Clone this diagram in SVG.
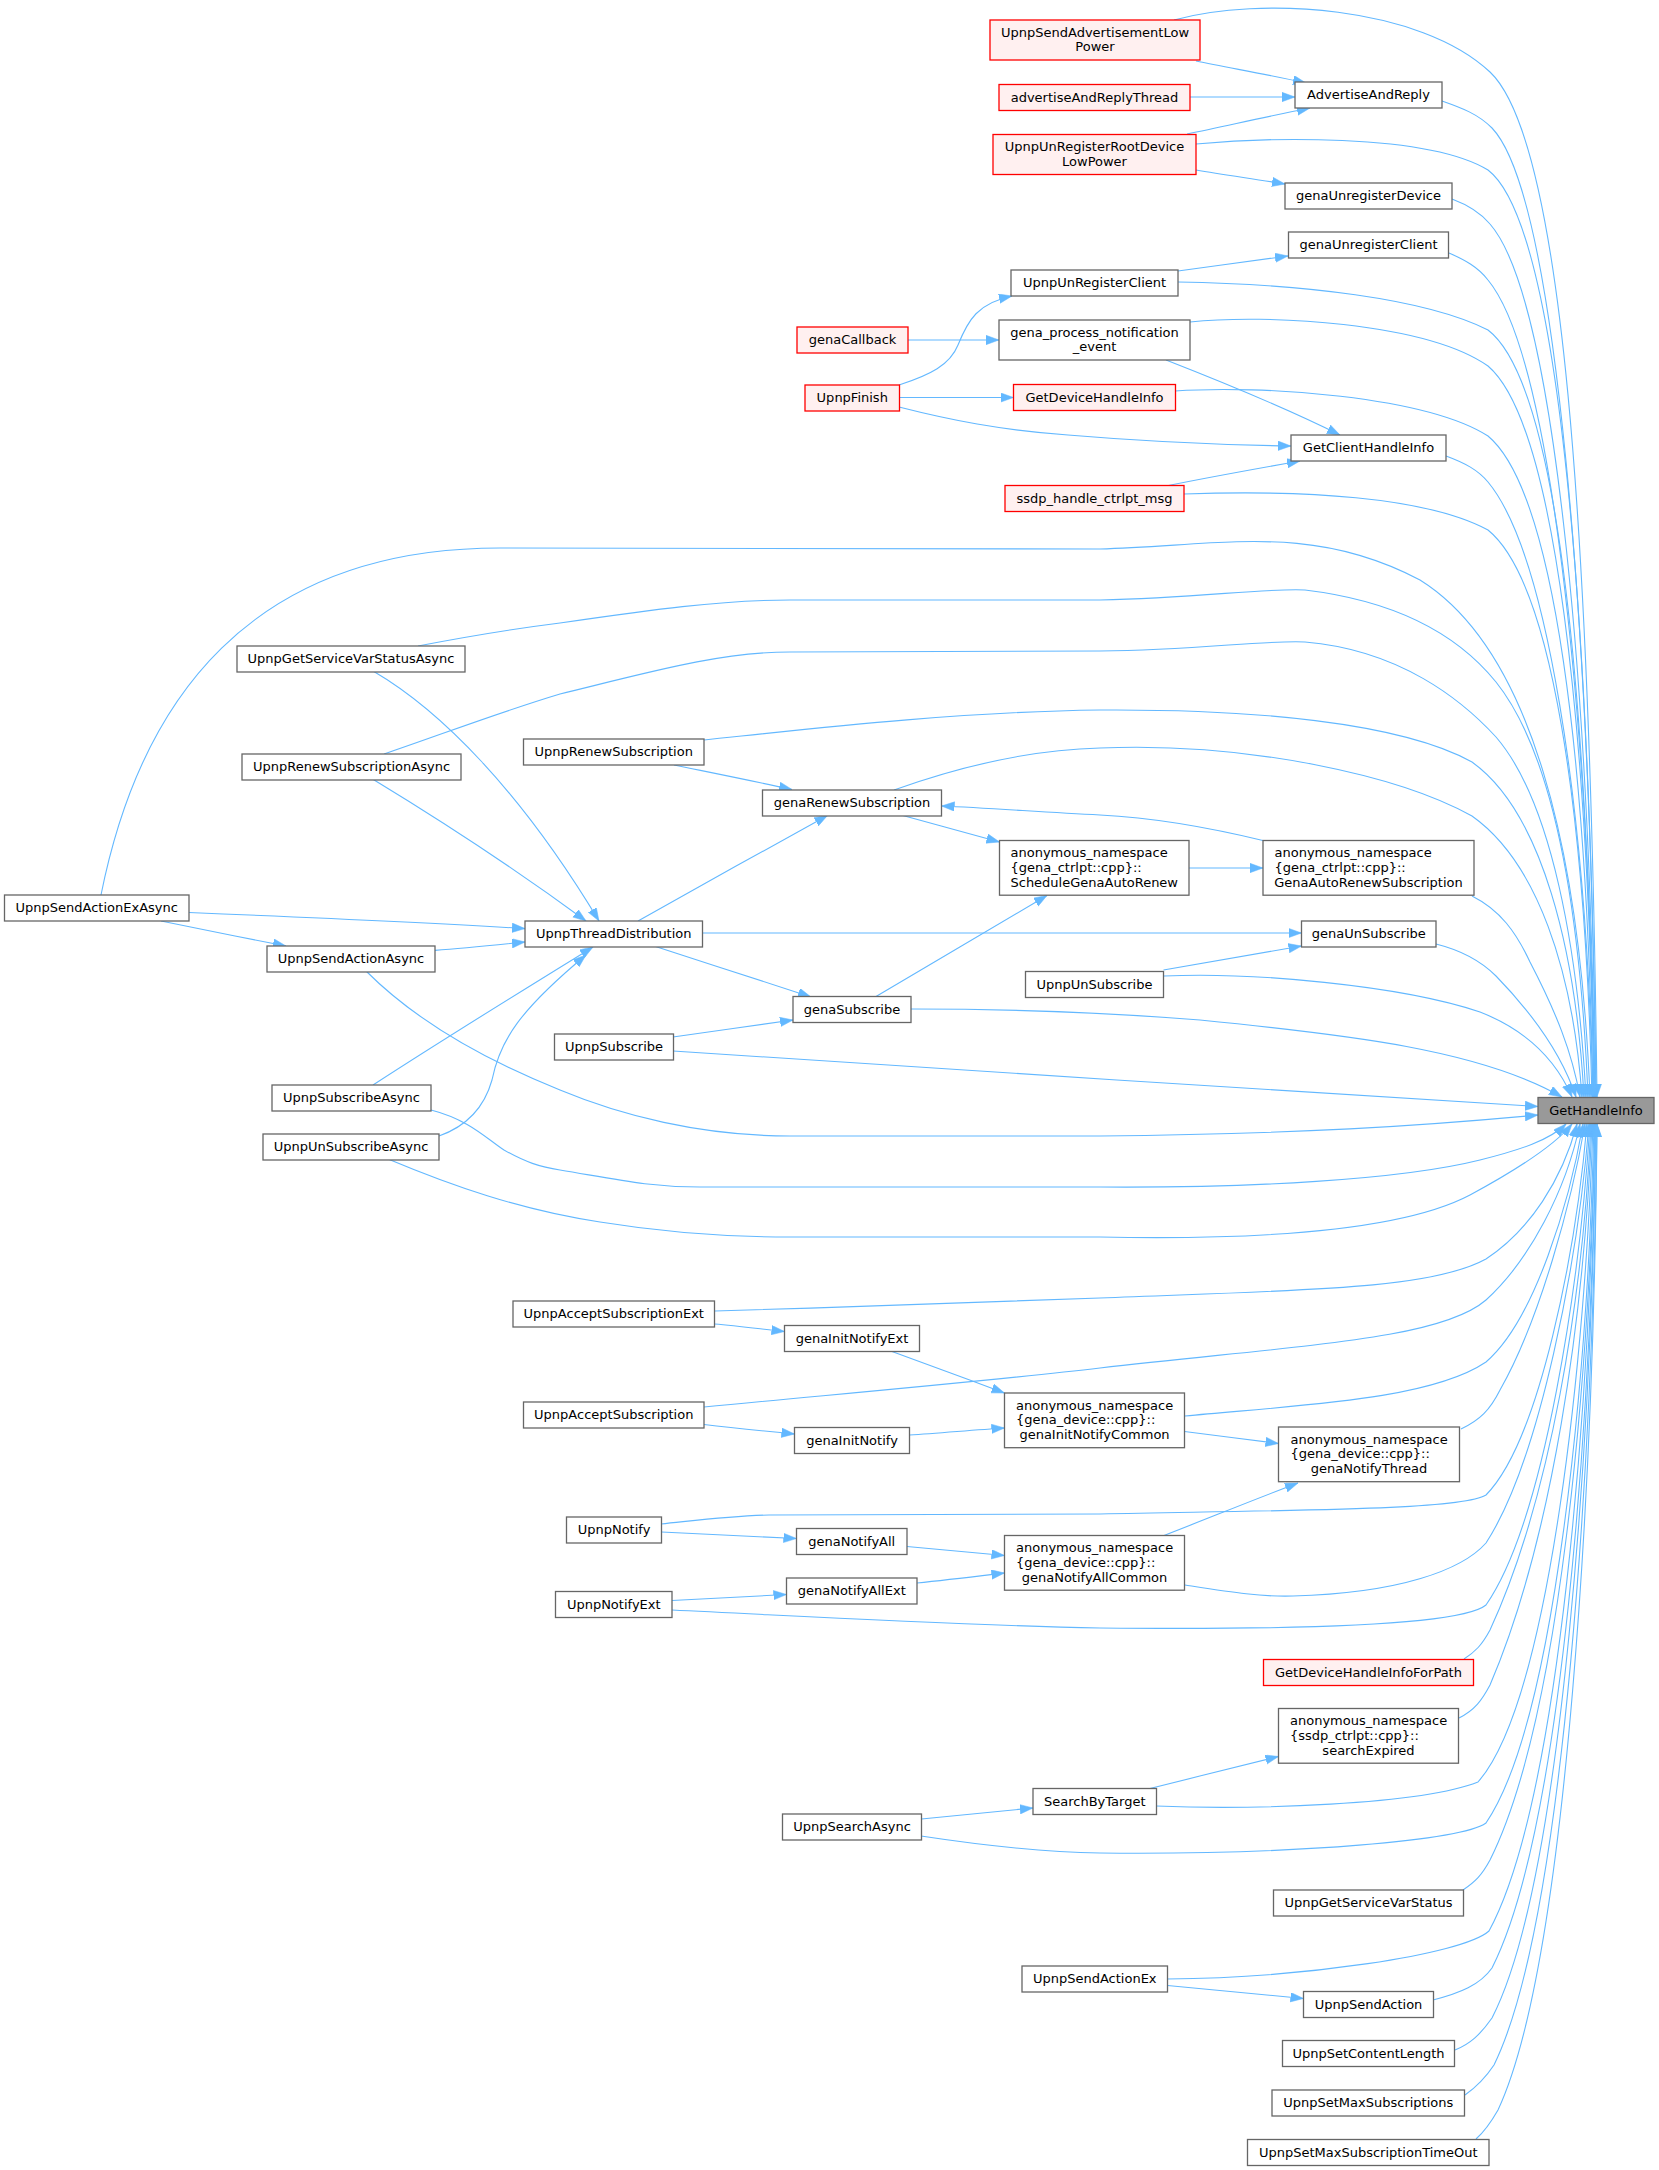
<svg xmlns="http://www.w3.org/2000/svg" width="1659" height="2170" viewBox="0 0 1659 2170">
<style>
.nd rect{fill:#ffffff;stroke:#666666;stroke-width:1.3}
.rd rect{fill:#fff0f0;stroke:#ff0000;stroke-width:1.3}
.gd rect{fill:#999999;stroke:#666666;stroke-width:1.3}
text{font-family:"DejaVu Sans","Liberation Sans",sans-serif;font-size:13px;fill:#000000}
.m{text-anchor:middle}
.s{text-anchor:start}
#edges path{fill:none;stroke:#63b8ff;stroke-width:1.1;marker-end:url(#ah)}
</style>
<defs>
<marker id="ah" markerUnits="userSpaceOnUse" markerWidth="14" markerHeight="10" refX="13" refY="4.7" orient="auto">
<path d="M0,0 L13,4.7 L0,9.4 z" fill="#63b8ff" stroke="#63b8ff" stroke-width="0.5"/>
</marker>
</defs>
<rect x="0" y="0" width="1659" height="2170" fill="#ffffff"/>
<g id="edges">
<!-- into GetHandleInfo from above -->
<path d="M1174,20 C1260,-4 1420,6 1490,72 C1562,140 1590,520 1597,1097"/>
<path d="M1442,101 C1462,108 1478,114 1492,128 C1556,195 1590,620 1596,1097"/>
<path d="M1196,144 C1260,138 1425,132 1488,170 C1560,225 1590,620 1596,1097"/>
<path d="M1452,199 C1468,205 1480,212 1490,224 C1552,295 1589,660 1595,1097"/>
<path d="M1449,253 C1465,260 1478,267 1488,280 C1550,355 1588,700 1595,1097"/>
<path d="M1178,282 C1300,284 1425,298 1488,330 C1560,385 1588,710 1594,1097"/>
<path d="M1190,322 C1265,314 1425,322 1488,366 C1556,424 1588,730 1594,1097"/>
<path d="M1175,391 C1262,385 1425,396 1488,436 C1555,492 1587,760 1593,1097"/>
<path d="M1446,456 C1465,463 1478,470 1488,482 C1546,552 1586,800 1593,1097"/>
<path d="M1184,494 C1300,490 1425,496 1488,530 C1552,582 1585,810 1592,1097"/>
<path d="M101,895 C140,700 250,548 500,548 L1100,549 C1220,546 1310,522 1420,580 C1532,650 1580,850 1590,1097"/>
<path d="M418,646 C470,636 520,628 560,623 C650,610 720,600 790,600 L1100,600 C1200,598 1262,588 1305,590 C1405,602 1462,640 1496,682 C1552,752 1580,900 1588,1097"/>
<path d="M384,754 C440,735 500,712 560,694 C650,672 720,652 790,652 L1100,651 C1200,650 1262,640 1305,642 C1400,650 1462,700 1496,737 C1552,802 1578,950 1586,1097"/>
<path d="M704,740 C800,730 950,712 1100,710 C1250,709 1400,722 1472,762 C1542,812 1576,950 1584,1097"/>
<path d="M894,790 C950,770 1020,750 1100,748 C1250,742 1400,776 1472,816 C1537,862 1573,970 1582,1097"/>
<path d="M1472,896 C1500,910 1516,932 1530,962 C1556,1012 1572,1052 1580,1097"/>
<path d="M1436,944 C1460,950 1480,960 1496,976 C1531,1012 1561,1052 1576,1097"/>
<path d="M1164,976 C1250,972 1400,985 1480,1012 C1526,1030 1556,1060 1572,1097"/>
<path d="M911,1009 C1000,1009 1100,1012 1200,1020 C1350,1035 1480,1050 1562,1097"/>
<!-- into GetHandleInfo from left -->
<path d="M673,1051 C900,1065 1300,1093 1538,1106.5"/>
<path d="M366,971 C400,1005 460,1050 560,1090 C620,1115 700,1136 790,1136 L1100,1136 C1300,1134 1420,1126 1538,1115"/>
<!-- into GetHandleInfo from below -->
<path d="M431,1110 C470,1120 488,1140 504,1150 C525,1162 540,1167 560,1170 C620,1180 650,1187 700,1187 L1100,1187 C1250,1188 1400,1180 1480,1160 C1520,1150 1550,1140 1566,1124"/>
<path d="M388,1159 C450,1185 520,1210 600,1222 C680,1235 740,1237 790,1237 L1100,1237 C1250,1240 1400,1232 1470,1195 C1520,1168 1555,1145 1572,1124"/>
<path d="M715,1311 C850,1307 1000,1302 1100,1298 C1300,1290 1430,1290 1486,1259 C1530,1230 1562,1180 1577,1124"/>
<path d="M704,1407 C850,1393 1000,1380 1100,1368 C1300,1345 1440,1340 1486,1300 C1530,1260 1566,1190 1580,1124"/>
<path d="M1185,1416 C1300,1405 1430,1400 1486,1362 C1535,1320 1570,1200 1583,1124"/>
<path d="M1461,1429 C1480,1420 1490,1410 1500,1390 C1540,1320 1572,1200 1585,1124"/>
<path d="M661,1524 C700,1520 730,1516 769,1515 L1100,1514 C1300,1510 1462,1510 1486,1495 C1540,1440 1576,1250 1587,1124"/>
<path d="M1185,1585 C1230,1592 1260,1597 1293,1596 C1400,1593 1462,1570 1486,1543 C1540,1460 1578,1260 1589,1124"/>
<path d="M672,1610 C800,1616 950,1625 1100,1628 C1300,1630 1462,1625 1486,1605 C1545,1520 1580,1280 1590,1124"/>
<path d="M1464,1659 C1475,1652 1482,1645 1490,1630 C1550,1500 1583,1300 1591,1124"/>
<path d="M1459,1718 C1475,1710 1482,1700 1490,1685 C1552,1540 1584,1320 1592,1124"/>
<path d="M1156,1806 C1250,1810 1420,1805 1478,1782 C1550,1700 1586,1350 1593,1124"/>
<path d="M921,1836 C980,1845 1040,1852 1100,1853 C1300,1855 1462,1840 1486,1823 C1556,1720 1588,1370 1594,1124"/>
<path d="M1463,1890 C1475,1882 1482,1875 1490,1860 C1560,1720 1589,1380 1595,1124"/>
<path d="M1167,1979 C1300,1978 1462,1955 1489,1931 C1560,1800 1590,1400 1595,1124"/>
<path d="M1433,2000 C1460,1993 1480,1985 1492,1968 C1562,1830 1591,1420 1596,1124"/>
<path d="M1455,2050 C1470,2044 1480,2035 1492,2018 C1563,1880 1592,1430 1596,1124"/>
<path d="M1465,2095 C1475,2088 1484,2080 1494,2065 C1565,1920 1593,1450 1597,1124"/>
<path d="M1476,2139 C1484,2132 1490,2124 1498,2110 C1568,1960 1594,1470 1597,1124"/>
<!-- other connectors -->
<path d="M1196,61 C1230,68 1270,75 1306,83"/>
<path d="M1190,97 L1295,97"/>
<path d="M1187,134 C1230,125 1270,116 1310,108"/>
<path d="M1196,170 C1225,175 1255,179 1285,184"/>
<path d="M1178,271 C1215,266 1250,261 1288,256"/>
<path d="M908,340 L999,340"/>
<path d="M899,385 C930,375 950,365 958,345 C968,320 978,303 1012,296"/>
<path d="M899,397.5 L1013.5,397.5"/>
<path d="M899,407 C950,420 1000,430 1068,435 C1150,442 1230,445 1291,446"/>
<path d="M1166,360 C1230,385 1290,410 1340,435"/>
<path d="M1166,486 C1210,477 1255,469 1300,461"/>
<path d="M373,671 C440,710 520,790 599,921"/>
<path d="M372.5,779 C440,820 510,865 586,921"/>
<path d="M189,912.5 C300,917 420,922 525,928.6"/>
<path d="M161,921 C200,929 245,938 286,946"/>
<path d="M435,950.4 C465,948 495,945 525,942"/>
<path d="M373,1085 C450,1035 520,992 593,947"/>
<path d="M439,1136 C470,1125 485,1105 492,1080 C500,1040 520,1010 586,955"/>
<path d="M638,921 C700,886 765,850 827.5,815.5"/>
<path d="M654,946 C706,963 760,980 811,997"/>
<path d="M702.5,933 L1301.5,933"/>
<path d="M674,765 C713,773 753,781 792,789.5"/>
<path d="M901,815 C934,824 966,833 999.5,842"/>
<path d="M1189,868 L1263,868"/>
<path d="M1265,841 C1220,830 1160,818 1100,815 C1040,812 990,808 941.5,806"/>
<path d="M876,996.5 C933,963 990,929 1047,895.5"/>
<path d="M673,1037 C713,1031 753,1026 793,1020"/>
<path d="M1163.5,970 C1209,962 1255,954 1301.5,946"/>
<path d="M714.5,1324 C738,1326 761,1329 784.5,1331.5"/>
<path d="M892,1351.5 C929,1365 967,1379 1004.5,1393"/>
<path d="M704,1424.5 C734,1428 764,1431 794.5,1434"/>
<path d="M909.5,1435 C941,1433 973,1430 1004.5,1428"/>
<path d="M1184.5,1431.5 C1216,1435.5 1247,1439.5 1278.5,1443.5"/>
<path d="M1164,1535.5 C1209,1518 1253,1500 1298,1483"/>
<path d="M661.5,1532 C706,1534 751,1536.5 796.5,1538.5"/>
<path d="M907,1546.5 C940,1549.5 972,1552.5 1004.5,1555.5"/>
<path d="M672,1600.5 C710,1598.5 748,1596.5 786.5,1594.5"/>
<path d="M917,1583 C946,1580 975,1576.5 1004.5,1573"/>
<path d="M1150,1788.5 C1193,1778 1235,1767 1278.5,1756.5"/>
<path d="M921.5,1819 C959,1815 996,1811.5 1033,1808"/>
<path d="M1167.5,1985.5 C1213,1990 1258,1994 1303.5,1998.5"/>
</g>
<g id="node1" class="rd"><rect x="990" y="20" width="210" height="40"/><text class="m" x="1095" y="36.7">UpnpSendAdvertisementLow</text><text class="m" x="1095" y="51.3">Power</text></g>
<g id="node2" class="rd"><rect x="999" y="84.5" width="191" height="26"/><text class="m" x="1094.5" y="101.5">advertiseAndReplyThread</text></g>
<g id="node3" class="rd"><rect x="993" y="134.5" width="203" height="40"/><text class="m" x="1094.5" y="151.2">UpnpUnRegisterRootDevice</text><text class="m" x="1094.5" y="165.8">LowPower</text></g>
<g id="node4" class="nd"><rect x="1295" y="82" width="147" height="26"/><text class="m" x="1368.5" y="99">AdvertiseAndReply</text></g>
<g id="node5" class="nd"><rect x="1285" y="183" width="167" height="26"/><text class="m" x="1368.5" y="200">genaUnregisterDevice</text></g>
<g id="node6" class="nd"><rect x="1288.5" y="232" width="160" height="26"/><text class="m" x="1368.5" y="249">genaUnregisterClient</text></g>
<g id="node7" class="nd"><rect x="1011" y="270" width="167" height="26"/><text class="m" x="1094.5" y="287">UpnpUnRegisterClient</text></g>
<g id="node8" class="nd"><rect x="999" y="320" width="191" height="40"/><text class="m" x="1094.5" y="336.7">gena_process_notification</text><text class="m" x="1094.5" y="351.3">_event</text></g>
<g id="node9" class="rd"><rect x="797" y="327" width="111" height="26"/><text class="m" x="852.5" y="344">genaCallback</text></g>
<g id="node10" class="rd"><rect x="805" y="385" width="94.5" height="26"/><text class="m" x="852.25" y="402">UpnpFinish</text></g>
<g id="node11" class="rd"><rect x="1013.5" y="384.5" width="162" height="26"/><text class="m" x="1094.5" y="401.5">GetDeviceHandleInfo</text></g>
<g id="node12" class="nd"><rect x="1291" y="435" width="155" height="26"/><text class="m" x="1368.5" y="452">GetClientHandleInfo</text></g>
<g id="node13" class="rd"><rect x="1005" y="485.5" width="179" height="26"/><text class="m" x="1094.5" y="502.5">ssdp_handle_ctrlpt_msg</text></g>
<g id="node14" class="nd"><rect x="237" y="646" width="228" height="26"/><text class="m" x="351" y="663">UpnpGetServiceVarStatusAsync</text></g>
<g id="node15" class="nd"><rect x="242" y="754" width="219" height="26"/><text class="m" x="351.5" y="771">UpnpRenewSubscriptionAsync</text></g>
<g id="node16" class="nd"><rect x="523.5" y="739" width="180.5" height="26"/><text class="m" x="613.75" y="756">UpnpRenewSubscription</text></g>
<g id="node17" class="nd"><rect x="762.5" y="790" width="179" height="26"/><text class="m" x="852" y="807">genaRenewSubscription</text></g>
<g id="node18" class="nd"><rect x="999.5" y="840.5" width="189.5" height="54.7"/><text class="s" x="1010.5" y="857.2">anonymous_namespace</text><text class="s" x="1010.5" y="871.8">{gena_ctrlpt::cpp}::</text><text class="m" x="1094.25" y="886.5">ScheduleGenaAutoRenew</text></g>
<g id="node19" class="nd"><rect x="1263" y="840.5" width="211" height="54.7"/><text class="s" x="1274.5" y="857.2">anonymous_namespace</text><text class="s" x="1274.5" y="871.8">{gena_ctrlpt::cpp}::</text><text class="m" x="1368.5" y="886.5">GenaAutoRenewSubscription</text></g>
<g id="node20" class="nd"><rect x="525" y="921" width="177.5" height="26"/><text class="m" x="613.75" y="938">UpnpThreadDistribution</text></g>
<g id="node21" class="nd"><rect x="4.5" y="895" width="184.5" height="26"/><text class="m" x="96.75" y="912">UpnpSendActionExAsync</text></g>
<g id="node22" class="nd"><rect x="267" y="946" width="168" height="26"/><text class="m" x="351" y="963">UpnpSendActionAsync</text></g>
<g id="node23" class="nd"><rect x="1301.5" y="921" width="134.5" height="26"/><text class="m" x="1368.75" y="938">genaUnSubscribe</text></g>
<g id="node24" class="nd"><rect x="1025.5" y="971.5" width="138" height="26"/><text class="m" x="1094.5" y="988.5">UpnpUnSubscribe</text></g>
<g id="node25" class="nd"><rect x="793" y="996.5" width="118" height="26"/><text class="m" x="852" y="1013.5">genaSubscribe</text></g>
<g id="node26" class="nd"><rect x="554.5" y="1034" width="119" height="26"/><text class="m" x="614" y="1051">UpnpSubscribe</text></g>
<g id="node27" class="nd"><rect x="272" y="1085" width="159" height="26"/><text class="m" x="351.5" y="1102">UpnpSubscribeAsync</text></g>
<g id="node28" class="nd"><rect x="263" y="1134" width="176" height="26"/><text class="m" x="351" y="1151">UpnpUnSubscribeAsync</text></g>
<g id="node29" class="gd"><rect x="1538" y="1097.5" width="116" height="26"/><text class="m" x="1596" y="1114.5">GetHandleInfo</text></g>
<g id="node30" class="nd"><rect x="513" y="1301" width="201.5" height="26"/><text class="m" x="613.75" y="1318">UpnpAcceptSubscriptionExt</text></g>
<g id="node31" class="nd"><rect x="784.5" y="1325.5" width="135" height="26"/><text class="m" x="852" y="1342.5">genaInitNotifyExt</text></g>
<g id="node32" class="nd"><rect x="523.5" y="1402" width="180.5" height="26"/><text class="m" x="613.75" y="1419">UpnpAcceptSubscription</text></g>
<g id="node33" class="nd"><rect x="794.5" y="1427.5" width="115" height="26"/><text class="m" x="852" y="1444.5">genaInitNotify</text></g>
<g id="node34" class="nd"><rect x="1004.5" y="1393" width="180" height="54.7"/><text class="s" x="1016" y="1409.7">anonymous_namespace</text><text class="s" x="1016" y="1424.3">{gena_device::cpp}::</text><text class="m" x="1094.5" y="1439">genaInitNotifyCommon</text></g>
<g id="node35" class="nd"><rect x="1278.5" y="1427" width="181" height="54.7"/><text class="s" x="1290.5" y="1443.7">anonymous_namespace</text><text class="s" x="1290.5" y="1458.3">{gena_device::cpp}::</text><text class="m" x="1369" y="1473">genaNotifyThread</text></g>
<g id="node36" class="nd"><rect x="566.5" y="1517" width="95" height="26"/><text class="m" x="614" y="1534">UpnpNotify</text></g>
<g id="node37" class="nd"><rect x="796.5" y="1528.5" width="110.5" height="26"/><text class="m" x="851.75" y="1545.5">genaNotifyAll</text></g>
<g id="node38" class="nd"><rect x="786.5" y="1578" width="130.5" height="26"/><text class="m" x="851.75" y="1595">genaNotifyAllExt</text></g>
<g id="node39" class="nd"><rect x="1004.5" y="1535.5" width="180" height="54.7"/><text class="s" x="1016" y="1552.2">anonymous_namespace</text><text class="s" x="1016" y="1566.8">{gena_device::cpp}::</text><text class="m" x="1094.5" y="1581.5">genaNotifyAllCommon</text></g>
<g id="node40" class="nd"><rect x="555.5" y="1591.5" width="116.5" height="26"/><text class="m" x="613.75" y="1608.5">UpnpNotifyExt</text></g>
<g id="node41" class="rd"><rect x="1263.5" y="1659.5" width="210" height="26"/><text class="m" x="1368.5" y="1676.5">GetDeviceHandleInfoForPath</text></g>
<g id="node42" class="nd"><rect x="1278.5" y="1708.5" width="180" height="54.7"/><text class="s" x="1290" y="1725.2">anonymous_namespace</text><text class="s" x="1290" y="1739.8">{ssdp_ctrlpt::cpp}::</text><text class="m" x="1368.5" y="1754.5">searchExpired</text></g>
<g id="node43" class="nd"><rect x="1033" y="1788.5" width="123.5" height="26"/><text class="m" x="1094.75" y="1805.5">SearchByTarget</text></g>
<g id="node44" class="nd"><rect x="782.5" y="1814" width="139" height="26"/><text class="m" x="852" y="1831">UpnpSearchAsync</text></g>
<g id="node45" class="nd"><rect x="1273.5" y="1890" width="190" height="26"/><text class="m" x="1368.5" y="1907">UpnpGetServiceVarStatus</text></g>
<g id="node46" class="nd"><rect x="1022" y="1966" width="145.5" height="26"/><text class="m" x="1094.75" y="1983">UpnpSendActionEx</text></g>
<g id="node47" class="nd"><rect x="1303.5" y="1991.5" width="130" height="26"/><text class="m" x="1368.5" y="2008.5">UpnpSendAction</text></g>
<g id="node48" class="nd"><rect x="1282.5" y="2040.5" width="172" height="26"/><text class="m" x="1368.5" y="2057.5">UpnpSetContentLength</text></g>
<g id="node49" class="nd"><rect x="1272" y="2090" width="192.5" height="26"/><text class="m" x="1368.25" y="2107">UpnpSetMaxSubscriptions</text></g>
<g id="node50" class="nd"><rect x="1247.5" y="2139.5" width="241.5" height="26"/><text class="m" x="1368.25" y="2156.5">UpnpSetMaxSubscriptionTimeOut</text></g>
</svg>
